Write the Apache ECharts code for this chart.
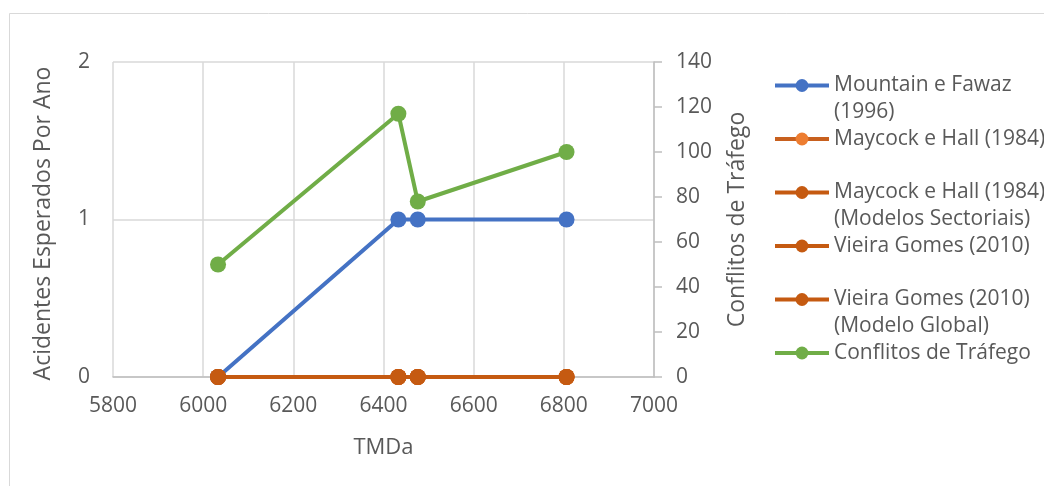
<!DOCTYPE html>
<html>
<head>
<meta charset="utf-8">
<script src="https://cdn.jsdelivr.net/npm/echarts@6/dist/echarts.min.js"></script>
<style>
  html, body { margin: 0; padding: 0; background: #fff; }
  #chart { width: 1044px; height: 486px; }
</style>
</head>
<body>
<div id="chart"></div>
<script>
// TMDa (annual average daily traffic) at the four sites
const tmda = [6033, 6433, 6476, 6806];

// Expected accidents per year by model
const mountainFawaz = [0, 1, 1, 1];
const maycockHall = [0, 0, 0, 0];
const maycockHallSect = [0, 0, 0, 0];
const vieiraGomes = [0, 0, 0, 0];
const vieiraGomesGlobal = [0, 0, 0, 0];

// Traffic conflicts (right axis)
const conflitos = [50, 117, 78, 100];

// Legend labels, split into lines
const seriesNames = [
  ['Mountain e Fawaz', '(1996)'],
  ['Maycock e Hall (1984)', ''],
  ['Maycock e Hall (1984)', '(Modelos Sectoriais)'],
  ['Vieira Gomes (2010)', ''],
  ['Vieira Gomes (2010)', '(Modelo Global)'],
  ['Conflitos de Tráfego', '']
];

const FONT = '"Open Sans", "Noto Sans", sans-serif';
const TEXT = '#595959';

const pairs = (ys) => tmda.map((x, i) => [x, ys[i]]);
const fullName = (n) => n[1] ? n[0] + ' ' + n[1] : n[0];

function lineSeries(idx, ys, lineColor, markerColor, yAxisIndex) {
  return {
    name: fullName(seriesNames[idx]),
    type: 'line',
    yAxisIndex: yAxisIndex,
    data: pairs(ys),
    symbol: 'circle',
    symbolSize: 16,
    lineStyle: { color: lineColor, width: 4 },
    itemStyle: { color: markerColor },
    emphasis: { disabled: true },
    z: 2 + idx
  };
}

const chart = echarts.init(document.getElementById('chart'), null, { renderer: 'canvas' });

chart.setOption({
  animation: false,
  backgroundColor: '#fff',
  textStyle: { fontFamily: FONT, color: TEXT },
  graphic: [{
    type: 'rect',
    shape: { x: 9.5, y: 13.5, width: 1100, height: 600 },
    style: { fill: 'none', stroke: '#d9d9d9', lineWidth: 1 },
    silent: true,
    z: -10
  }],
  grid: { left: 113, right: 390, top: 62, bottom: 109 },
  legend: {
    orient: 'vertical',
    left: 773,
    top: 45,
    padding: 0,
    itemWidth: 54,
    itemHeight: 16,
    itemGap: -27.5,
    lineStyle: { width: 4 },
    textStyle: { fontFamily: FONT, fontSize: 21, color: TEXT, lineHeight: 27 },
    formatter: (name) => {
      const n = seriesNames.find(s => fullName(s) === name);
      return '\n' + n[0] + '\n' + n[1];
    },
    selectedMode: false
  },
  xAxis: {
    type: 'value',
    min: 5800,
    max: 7000,
    interval: 200,
    name: 'TMDa',
    nameLocation: 'middle',
    nameGap: 60,
    nameTextStyle: { fontFamily: FONT, fontSize: 22, color: TEXT },
    axisLine: { show: true, onZero: false, lineStyle: { color: '#bfbfbf', width: 1.5 } },
    axisTick: { show: false },
    axisLabel: { fontFamily: FONT, fontSize: 21, color: TEXT, margin: 19, formatter: (v) => String(v) },
    splitLine: { show: true, lineStyle: { color: '#d9d9d9', width: 1.5 } }
  },
  yAxis: [{
    type: 'value',
    min: 0,
    max: 2,
    interval: 1,
    position: 'left',
    name: 'Acidentes Esperados Por Ano',
    nameLocation: 'middle',
    nameGap: 58,
    nameRotate: 90,
    nameTextStyle: { fontFamily: FONT, fontSize: 23, color: TEXT, padding: [0, 8, 0, 0] },
    axisLine: { show: false },
    axisTick: { show: false },
    axisLabel: { fontFamily: FONT, fontSize: 21, color: TEXT, margin: 23 },
    splitLine: { show: true, lineStyle: { color: '#d9d9d9', width: 1.5 } }
  }, {
    type: 'value',
    min: 0,
    max: 140,
    interval: 20,
    position: 'right',
    name: 'Conflitos de Tráfego',
    nameLocation: 'middle',
    nameGap: 72,
    nameRotate: 90,
    nameTextStyle: { fontFamily: FONT, fontSize: 23, color: TEXT },
    axisLine: { show: true, lineStyle: { color: '#bfbfbf', width: 1.5 } },
    axisTick: { show: true, inside: false, length: 8, lineStyle: { color: '#bfbfbf', width: 1.5 } },
    axisLabel: { fontFamily: FONT, fontSize: 21, color: TEXT, margin: 22 },
    splitLine: { show: false }
  }],
  series: [
    lineSeries(0, mountainFawaz, '#4472C4', '#4472C4', 0),
    lineSeries(1, maycockHall, '#C8601E', '#ED7D31', 0),
    lineSeries(2, maycockHallSect, '#C55A11', '#C55A11', 0),
    lineSeries(3, vieiraGomes, '#C55A11', '#C55A11', 0),
    lineSeries(4, vieiraGomesGlobal, '#C55A11', '#C55A11', 0),
    lineSeries(5, conflitos, '#70AD47', '#70AD47', 1)
  ]
});
</script>
</body>
</html>
